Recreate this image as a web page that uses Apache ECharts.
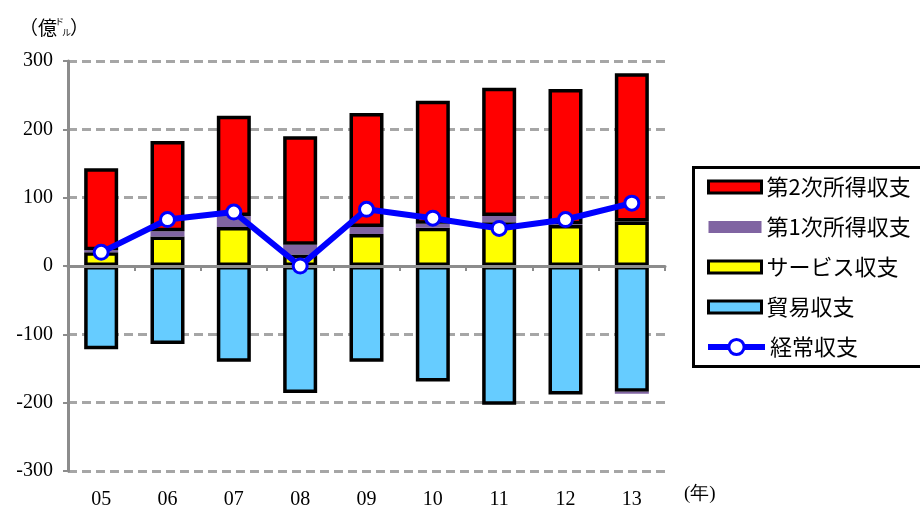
<!DOCTYPE html>
<html>
<head>
<meta charset="utf-8">
<script src="https://cdn.jsdelivr.net/npm/echarts@6/dist/echarts.min.js"></script>
<style>
  html, body { margin: 0; padding: 0; background: #fff; }
  #chart { width: 920px; height: 512px; }
</style>
</head>
<body>
<div id="chart"></div>
<script>
// 年次（西暦下2桁）
const years = ['05', '06', '07', '08', '09', '10', '11', '12', '13'];
// 収支内訳（億ドル）
const trade     = [-122, -114, -140, -186, -140, -169, -203, -188, -184]; // 貿易収支
const services  = [20, 43, 57, 17, 47, 56, 64, 60, 65];                   // サービス収支
const primary   = [3, 8, 16, 14, 10, 6, 9, 1, -3];                        // 第1次所得収支
const secondary = [120, 132, 147, 159, 167, 180, 188, 198, 217];          // 第2次所得収支
const current   = [20, 68, 79, 0, 83, 70, 55, 68, 92];                    // 経常収支
// 縦軸の範囲と目盛
const yMin = -300, yMax = 300, yStep = 100;

const serifFont = '"Liberation Serif", "DejaVu Serif", serif';
const gothicFont = '"Noto Sans CJK JP", "Noto Sans", sans-serif';
const barBorder = { borderColor: '#000', borderWidth: 3.5 };
const barW = 34;

const chart = echarts.init(document.getElementById('chart'), null, { renderer: 'canvas' });

chart.setOption({
  animation: false,
  backgroundColor: '#fff',
  grid: { left: 68, right: 255, top: 61, bottom: 41 },
  xAxis: [
    {
      // 0の位置の横軸線と区切り目盛（棒の上に描く）
      type: 'category',
      data: years,
      position: 'bottom',
      z: 4,
      axisLine: { onZero: true, lineStyle: { color: '#8c8c8c', width: 3 } },
      axisTick: { show: true, length: 5, lineStyle: { color: '#8c8c8c', width: 2 } },
      axisLabel: { show: false },
      splitLine: { show: false }
    },
    {
      // 下端の年ラベル
      type: 'category',
      data: years,
      position: 'bottom',
      axisLine: { show: false, onZero: false },
      axisTick: { show: false },
      axisLabel: { color: '#000', fontFamily: serifFont, fontSize: 20, margin: 19 },
      splitLine: { show: false }
    }
  ],
  yAxis: {
    type: 'value',
    min: yMin,
    max: yMax,
    interval: yStep,
    axisLine: { show: true, lineStyle: { color: '#8c8c8c', width: 3 } },
    axisTick: { show: true, length: 5, lineStyle: { color: '#8c8c8c', width: 2 } },
    axisLabel: { color: '#000', fontFamily: serifFont, fontSize: 20, margin: 15 },
    splitLine: { show: true, lineStyle: { color: '#a6a6a6', width: 3, type: [9, 5] } }
  },
  legend: [
    {
      orient: 'vertical',
      left: 707,
      top: 176,
      padding: 0,
      itemWidth: 53,
      itemHeight: 12,
      itemGap: 18,
      icon: 'rect',
      selectedMode: false,
      textStyle: { color: '#000', fontFamily: gothicFont, fontSize: 22 },
      itemStyle: { borderColor: '#000', borderWidth: 3 },
      data: [
        '第2次所得収支',
        { name: '第1次所得収支', itemStyle: { borderWidth: 0 } },
        'サービス収支',
        '貿易収支'
      ]
    },
    {
      orient: 'vertical',
      left: 705,
      top: 336,
      padding: 0,
      itemWidth: 57,
      itemHeight: 19,
      selectedMode: false,
      textStyle: { color: '#000', fontFamily: gothicFont, fontSize: 22 },
      lineStyle: { color: '#0000ff', width: 6 },
      itemStyle: { color: '#ffffff', borderColor: '#0000ff', borderWidth: 3 },
      data: ['経常収支']
    }
  ],
  graphic: [
    // 凡例の枠
    {
      type: 'rect',
      shape: { x: 693.5, y: 167.5, width: 260, height: 199 },
      style: { fill: 'none', stroke: '#000', lineWidth: 3 },
      z: 1
    },
    // 単位（億ドル）
    { type: 'text', left: 19, top: 18, style: { text: '（億', fontFamily: gothicFont, fontSize: 19, fill: '#000' } },
    { type: 'text', left: 55, top: 17, style: { text: 'ド', fontFamily: gothicFont, fontSize: 9, fill: '#000' } },
    { type: 'text', left: 62, top: 28, style: { text: 'ル', fontFamily: gothicFont, fontSize: 9, fill: '#000' } },
    { type: 'text', left: 70, top: 18, style: { text: '）', fontFamily: gothicFont, fontSize: 19, fill: '#000' } },
    // 年
    { type: 'text', left: 684, top: 485, style: { text: '(年)', fontFamily: serifFont, fontSize: 19, fill: '#000' } }
  ],
  series: [
    {
      name: '貿易収支', type: 'bar', stack: 'bop', barWidth: barW,
      itemStyle: Object.assign({ color: '#66ccff' }, barBorder),
      data: trade
    },
    {
      name: 'サービス収支', type: 'bar', stack: 'bop', barWidth: barW,
      itemStyle: Object.assign({ color: '#ffff00' }, barBorder),
      data: services
    },
    {
      name: '第1次所得収支', type: 'bar', stack: 'bop', barWidth: barW,
      itemStyle: { color: '#8064a2', borderWidth: 0 },
      data: primary
    },
    {
      name: '第2次所得収支', type: 'bar', stack: 'bop', barWidth: barW,
      itemStyle: Object.assign({ color: '#ff0000' }, barBorder),
      data: secondary
    },
    {
      name: '経常収支', type: 'line', z: 5,
      data: current,
      lineStyle: { color: '#0000ff', width: 6 },
      symbol: 'circle',
      symbolSize: 14,
      showAllSymbol: true,
      itemStyle: { color: '#ffffff', borderColor: '#0000ff', borderWidth: 3 }
    }
  ]
});
</script>
</body>
</html>
